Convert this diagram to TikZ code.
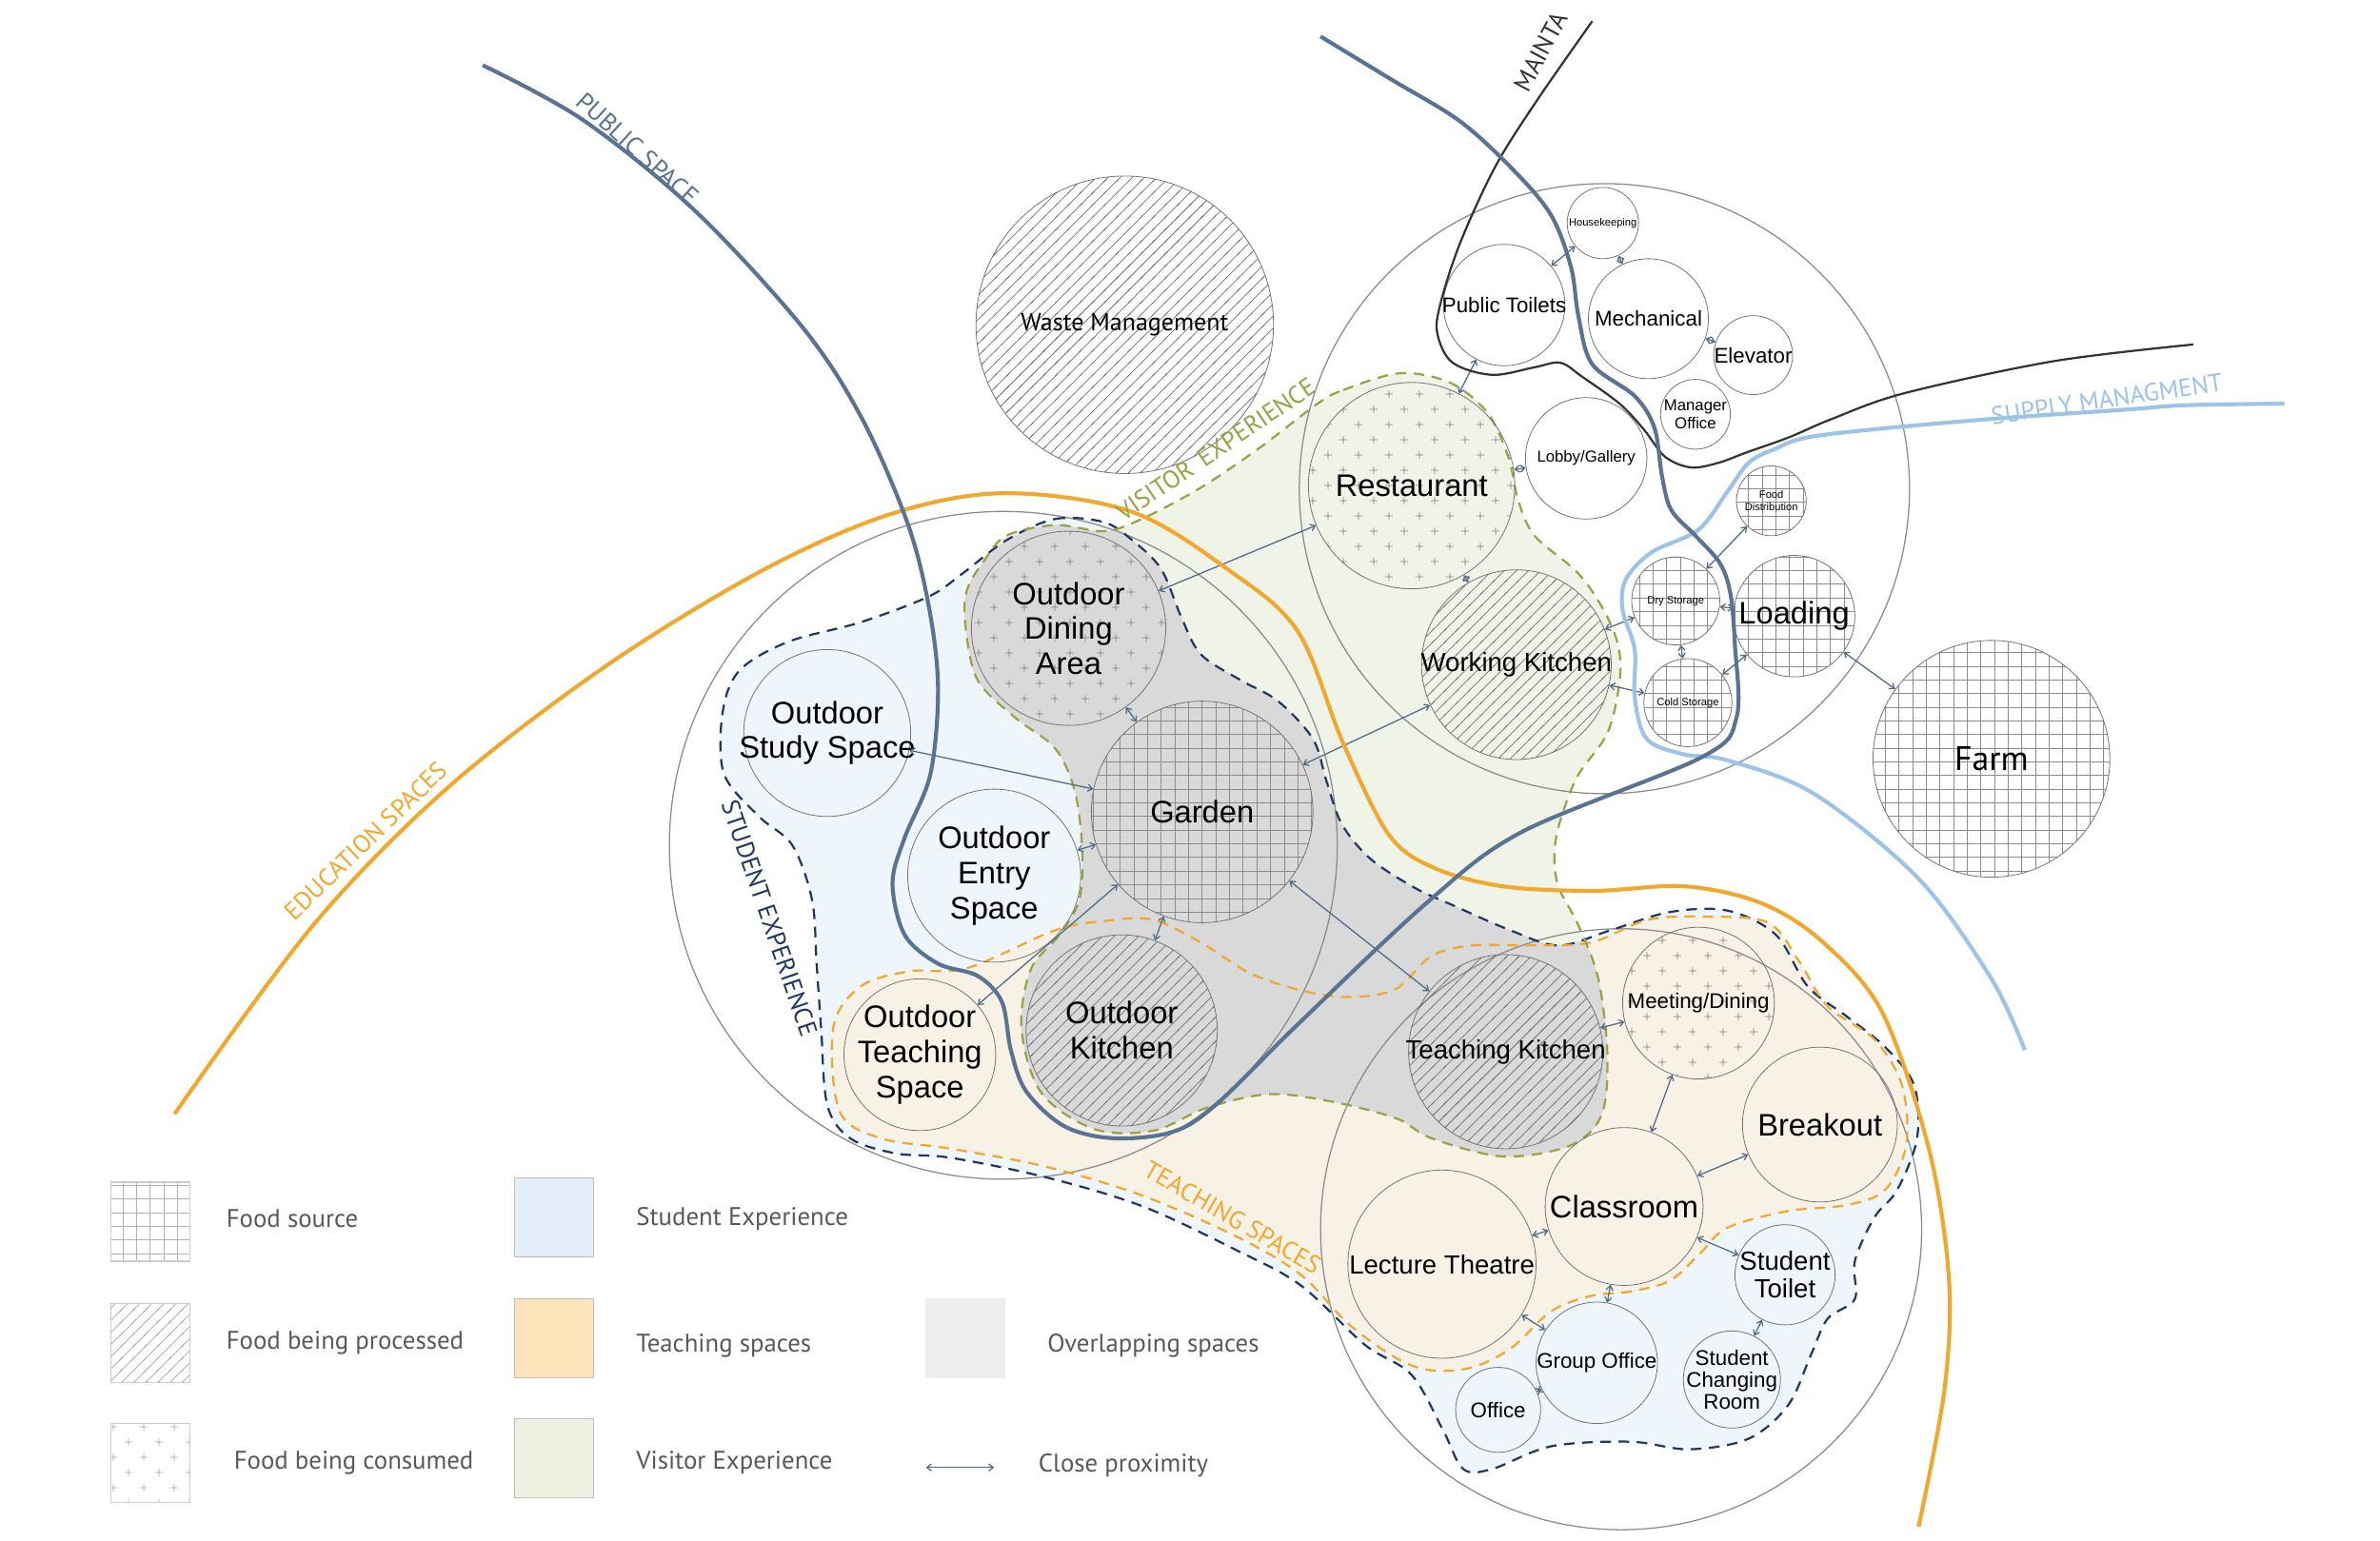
\documentclass[tikz,border=0pt]{standalone}
\usepackage{fontspec}
\setmainfont{Liberation Sans}
\newfontfamily\legendfont{PT Sans}
\usepackage{tikz}
\usetikzlibrary{arrows.meta, patterns}

\definecolor{publicblue}{HTML}{5B7392}
\definecolor{eduorange}{HTML}{F0A82F}
\definecolor{supplyblue}{HTML}{9DC3E6}
\definecolor{studentnavy}{HTML}{1F3864}
\definecolor{visitorolive}{HTML}{9BA146}
\definecolor{studentfill}{HTML}{EEF5FB}
\definecolor{teachfill}{HTML}{F8F2E6}
\definecolor{visitorfill}{HTML}{F0F3E8}
\definecolor{overlapfill}{HTML}{D9D9D9}
\definecolor{proxblue}{HTML}{4F6B87}
\definecolor{keystudent}{HTML}{E3EEF8}
\definecolor{keyteach}{HTML}{FDE3B9}
\definecolor{keyvisitor}{HTML}{EEF0E2}
\definecolor{keyoverlap}{HTML}{EEEEEE}

% hatch patterns for the food stages
\pgfdeclarepatternformonly{foodgrid}{\pgfqpoint{-1pt}{-1pt}}{\pgfqpoint{10pt}{10pt}}{\pgfqpoint{9pt}{9pt}}{%
  \pgfsetlinewidth{0.45pt}%
  \pgfpathmoveto{\pgfqpoint{-1pt}{0pt}}\pgfpathlineto{\pgfqpoint{10pt}{0pt}}%
  \pgfpathmoveto{\pgfqpoint{0pt}{-1pt}}\pgfpathlineto{\pgfqpoint{0pt}{10pt}}%
  \pgfusepath{stroke}}
\pgfdeclarepatternformonly{foodhatch}{\pgfqpoint{-1pt}{-1pt}}{\pgfqpoint{9pt}{9pt}}{\pgfqpoint{8pt}{8pt}}{%
  \pgfsetlinewidth{0.45pt}%
  \pgfpathmoveto{\pgfqpoint{-1pt}{-1pt}}\pgfpathlineto{\pgfqpoint{9pt}{9pt}}%
  \pgfusepath{stroke}}
\pgfdeclarepatternformonly{plusses}{\pgfqpoint{0pt}{0pt}}{\pgfqpoint{20pt}{20pt}}{\pgfqpoint{20pt}{20pt}}{%
  \pgfsetlinewidth{0.5pt}%
  \pgfpathmoveto{\pgfqpoint{2.5pt}{5pt}}\pgfpathlineto{\pgfqpoint{7.5pt}{5pt}}%
  \pgfpathmoveto{\pgfqpoint{5pt}{2.5pt}}\pgfpathlineto{\pgfqpoint{5pt}{7.5pt}}%
  \pgfpathmoveto{\pgfqpoint{12.5pt}{15pt}}\pgfpathlineto{\pgfqpoint{17.5pt}{15pt}}%
  \pgfpathmoveto{\pgfqpoint{15pt}{12.5pt}}\pgfpathlineto{\pgfqpoint{15pt}{17.5pt}}%
  \pgfusepath{stroke}}

\begin{document}
\begin{tikzpicture}[
    x=1pt, y=-1pt,
    room/.style={circle, draw=black!55, line width=0.5pt, inner sep=0pt, minimum size=#1},
    every label/.style={align=center, inner sep=0pt, text=black},
    source/.style={pattern=foodgrid, pattern color=black!45},
    processed/.style={pattern=foodhatch, pattern color=black!55},
    consumed/.style={pattern=plusses, pattern color=black!50},
    bigtxt/.style={font=\fontsize{20.5}{23}\selectfont},
    midtxt/.style={font=\fontsize{17.3}{18.5}\selectfont},
    smalltxt/.style={font=\fontsize{14}{14.5}\selectfont},
    tinytxt/.style={font=\fontsize{10.5}{12}\selectfont},
    microtxt/.style={font=\fontsize{7}{8}\selectfont},
    zone/.style={draw=black!45, line width=0.8pt},
    prox/.style={{Straight Barb[length=3pt,width=4.5pt]}-{Straight Barb[length=3pt,width=4.5pt]}, draw=proxblue, line width=0.8pt},
    zonelabel/.style={font=\legendfont\fontsize{16.5}{17}\selectfont, inner sep=0pt},
    legendtxt/.style={font=\legendfont\fontsize{16.8}{17}\selectfont, text=black!65, anchor=west, inner sep=0pt},
    swatch/.style={rectangle, minimum width=52pt, minimum height=52pt, inner sep=0pt, draw=black!25, line width=0.8pt}
]
\useasboundingbox (0,0) rectangle (1568,1015);
\fill[white] (0,0) rectangle (1568,1015);

% Experience zones
\path[save path=\studentzone] plot[smooth cycle, tension=0.55] coordinates {
  (663,356) (695,342) (727,344) (746,356) (765,375) (778,406) (791,431) (817,448) (842,462)
  (865,487) (874,515) (884,543) (903,566) (932,585) (956,596) (995,613) (1027,623) (1061,613)
  (1100,601) (1138,600) (1170,616) (1191,650) (1217,670) (1242,690) (1261,715) (1263,750)
  (1250,784) (1235,802) (1222,831) (1222,856) (1204,869) (1193,893) (1178,926) (1152,948)
  (1113,955) (1074,950) (1022,953) (983,968) (964,968) (951,943) (930,906) (899,886) (857,847)
  (815,824) (753,795) (690,776) (627,763) (590,760) (560,750) (545,728) (541,678) (538,635)
  (535,593) (522,557) (500,538) (477,510) (476,470) (487,442) (519,423) (567,410) (612,393) (634,378)};
\path[save path=\teachzone] plot[smooth cycle, tension=0.55] coordinates {
  (549,677) (567,650) (599,640) (637,638) (695,613) (727,607) (759,606) (791,621) (823,641)
  (855,652) (887,657) (919,652) (943,630) (970,623) (1008,623) (1048,621) (1086,606) (1126,604)
  (1165,608) (1185,633) (1204,663) (1235,685) (1253,715) (1256,754) (1242,784) (1217,794)
  (1178,798) (1138,809) (1120,826) (1100,844) (1074,851) (1048,854) (1022,864) (996,888)
  (970,901) (943,903) (920,895) (888,872) (857,840) (815,815) (753,788) (690,769) (627,757)
  (580,750) (553,732)};
\path[save path=\visitorzone] plot[smooth cycle, tension=0.55] coordinates {
  (868,266) (885,257) (922,246) (955,252) (980,272) (994,302) (1000,329) (1011,353) (1039,377)
  (1056,401) (1066,425) (1067,449) (1059,483) (1039,512) (1027,544) (1024,565) (1027,585)
  (1040,610) (1053,645) (1059,695) (1055,735) (1034,755) (990,762) (943,750) (920,737)
  (878,726) (836,721) (795,730) (760,745) (721,744) (686,720) (673,678) (679,639) (698,616)
  (711,593) (713,560) (708,521) (695,493) (669,473) (644,448) (636,412) (637,389) (648,370)
  (663,353) (695,346) (727,350) (750,343) (790,322) (830,295)};

\fill[studentfill, use path=\studentzone];
\fill[teachfill, use path=\teachzone];
\fill[visitorfill, use path=\visitorzone];
\begin{scope}
  \clip[use path=\studentzone];
  \fill[overlapfill, use path=\visitorzone];
\end{scope}

% Cluster boundaries
\draw[zone] (661,557) circle[radius=220];
\draw[zone] (1057,322) circle[radius=201];
\draw[zone] (1068,810) circle[radius=198];

\draw[studentnavy, line width=1.4pt, dash pattern=on 7pt off 5pt, use path=\studentzone];
\draw[eduorange, line width=1.4pt, dash pattern=on 7pt off 5pt, use path=\teachzone];
\draw[visitorolive, line width=1.4pt, dash pattern=on 7pt off 5pt, use path=\visitorzone];

% Service and kitchen cluster
\node[room=196pt, processed, label={[font=\legendfont\fontsize{16.3}{17}\selectfont]center:Waste Management}] (waste) at (741,214) {};
\node[room=80pt, label={[smalltxt]center:Public Toilets}] (toilets) at (991,201) {};
\node[room=47pt, label={[microtxt]center:Housekeeping}] (housekeeping) at (1056,147) {};
\node[room=79pt, label={[smalltxt]center:Mechanical}] (mechanical) at (1086,210) {};
\node[room=52pt, label={[smalltxt]center:Elevator}] (elevator) at (1155,234) {};
\node[room=46pt, label={[tinytxt]center:Manager\\Office}] (manager) at (1117,273) {};
\node[room=80pt, label={[tinytxt]center:Lobby/Gallery}] (lobby) at (1045,302) {};
\node[room=136pt, consumed, label={[bigtxt]center:Restaurant}] (restaurant) at (930,320) {};
\node[room=125pt, processed, label={[midtxt]center:Working Kitchen}] (workkitchen) at (999,438) {};
\node[room=46pt, source, label={[microtxt]center:Food\\Distribution}] (fooddist) at (1167,330) {};
\node[room=58pt, source, label={[microtxt]center:Dry Storage}] (drystore) at (1104,396) {};
\node[room=80pt, source, label={[bigtxt]center:Loading}] (loading) at (1182,406) {};
\node[room=58pt, source, label={[microtxt]center:Cold Storage}] (coldstore) at (1112,463) {};
\node[room=156pt, source, label={[font=\legendfont\fontsize{22.5}{23}\selectfont]center:Farm}] (farm) at (1312,500) {};

% Outdoor cluster
\node[room=128pt, consumed, label={[bigtxt]center:Outdoor\\Dining\\Area}] (dining) at (704,414) {};
\node[room=110pt, label={[bigtxt]center:Outdoor\\Study Space}] (study) at (545,483) {};
\node[room=146pt, source, label={[bigtxt]center:Garden}] (garden) at (792,535) {};
\node[room=114pt, label={[bigtxt]center:Outdoor\\Entry\\Space}] (entry) at (655,577) {};
\node[room=126pt, processed, label={[bigtxt]center:Outdoor\\Kitchen}] (outkitchen) at (739,679) {};
\node[room=100pt, label={[bigtxt]center:Outdoor\\Teaching\\Space}] (outteach) at (606,695) {};

% Teaching cluster
\node[room=128pt, processed, label={[midtxt]center:Teaching Kitchen}] (teachkitchen) at (992,693) {};
\node[room=100pt, consumed, label={[smalltxt]center:Meeting/Dining}] (meeting) at (1119,661) {};
\node[room=102pt, label={[bigtxt]center:Breakout}] (breakout) at (1199,741) {};
\node[room=104pt, label={[bigtxt]center:Classroom}] (classroom) at (1070,795) {};
\node[room=124pt, label={[midtxt]center:Lecture Theatre}] (lecture) at (950,833) {};
\node[room=66pt, label={[midtxt]center:Student\\Toilet}] (stutoilet) at (1176,840) {};
\node[room=80pt, label={[smalltxt]center:Group Office}] (groupoffice) at (1052,898) {};
\node[room=64pt, label={[smalltxt]center:Student\\Changing\\Room}] (changing) at (1141,909) {};
\node[room=56pt, label={[smalltxt]center:Office}] (office) at (987,929) {};

% Close proximity links
\draw[prox] (toilets) -- (housekeeping);
\draw[prox] (housekeeping) -- (mechanical);
\draw[prox] (mechanical) -- (elevator);
\draw[prox] (toilets) -- (restaurant);
\draw[prox] (restaurant) -- (lobby);
\draw[prox] (restaurant) -- (workkitchen);
\draw[prox] (restaurant) -- (dining);
\draw[prox] (workkitchen) -- (garden);
\draw[prox] (workkitchen) -- (drystore);
\draw[prox] (workkitchen) -- (coldstore);
\draw[prox] (drystore) -- (fooddist);
\draw[prox] (drystore) -- (loading);
\draw[prox] (drystore) -- (coldstore);
\draw[prox] (coldstore) -- (loading);
\draw[prox] (loading) -- (farm);
\draw[prox] (dining) -- (garden);
\draw[prox] (study) -- (garden);
\draw[prox] (entry) -- (garden);
\draw[prox] (garden) -- (outkitchen);
\draw[prox] (garden) -- (outteach);
\draw[prox] (garden) -- (teachkitchen);
\draw[prox] (teachkitchen) -- (meeting);
\draw[prox] (meeting) -- (classroom);
\draw[prox] (classroom) -- (breakout);
\draw[prox] (classroom) -- (lecture);
\draw[prox] (classroom) -- (stutoilet);
\draw[prox] (classroom) -- (groupoffice);
\draw[prox] (lecture) -- (groupoffice);
\draw[prox] (groupoffice) -- (office);
\draw[prox] (stutoilet) -- (changing);

% Circulation lines
\draw[eduorange, line width=2.6pt] plot[smooth, tension=0.55] coordinates {
  (115,734) (206,610) (295,519) (399,439) (502,376) (586,339) (661,325) (745,337) (810,376)
  (855,416) (885,490) (915,550) (945,572) (990,584) (1050,587) (1110,584) (1160,595)
  (1200,620) (1240,667) (1271,758) (1284,843) (1281,916) (1264,1006)};
\draw[supplyblue, line width=2.6pt] plot[smooth, tension=0.55] coordinates {
  (1505,266) (1440,267) (1399,270) (1300,277) (1198,287) (1169,296) (1152,305) (1138,324)
  (1119,349) (1088,364) (1071,382) (1069,402) (1077,428) (1077,460) (1085,487) (1109,497)
  (1138,501) (1195,523) (1264,579) (1312,645) (1334,692)};
\draw[black!80, line width=1.4pt] plot[smooth, tension=0.55] coordinates {
  (1049,14) (1012,67) (985,110) (962,160) (949,200) (947,220) (957,239) (983,247) (1011,242)
  (1028,239) (1042,248) (1067,266) (1083,283) (1097,301) (1114,308) (1132,305) (1151,298)
  (1179,288) (1207,276) (1255,259) (1353,238) (1445,227)};
\draw[publicblue, line width=2.6pt] plot[smooth, tension=0.55] coordinates {
  (318,43) (384,79) (458,139) (529,216) (568,276) (598,345) (612,400) (618,453) (613,510)
  (596,552) (588,582) (596,616) (618,635) (644,643) (660,660) (666,692) (676,719) (701,742)
  (733,750) (772,746) (801,728) (855,675) (941,594) (1003,548) (1121,499) (1144,473)
  (1143,425) (1140,391) (1133,371) (1117,353) (1101,336) (1095,314) (1090,282) (1077,261)
  (1049,240) (1040,209) (1035,176) (1022,142) (998,113) (962,80) (916,52) (870,24)};

% Zone labels
\node[zonelabel, text=publicblue, rotate=-42] (lblpublic) at (420,98) {PUBLIC SPACE};
\node[zonelabel, text=black!80, rotate=62] (lblmaint) at (1015,34) {MAINTA};
\node[zonelabel, text=supplyblue, rotate=8.5] (lblsupply) at (1388,263) {SUPPLY MANAGMENT};
\node[zonelabel, text=eduorange, rotate=44] (lbledu) at (241,554) {EDUCATION SPACES};
\node[zonelabel, text=studentnavy, rotate=-71] (lblstudent) at (507,605) {STUDENT EXPERIENCE};
\node[zonelabel, text=visitorolive, rotate=34] (lblvisitor) at (801,296) {VISITOR\hspace{7pt}EXPERIENCE};
\node[zonelabel, text=eduorange, rotate=-30] (lblteach) at (812,802) {TEACHING SPACES};

% Legend
\node[swatch, source, draw=black!20, pattern color=black!30] (keysource) at (99,805) {};
\node[swatch, processed, draw=black!20, pattern color=black!35] (keyprocessed) at (99,885) {};
\node[swatch, consumed, draw=black!20, pattern color=black!35] (keyconsumed) at (99,964) {};
\node[legendtxt] (txtsource) at (149,803) {Food source};
\node[legendtxt] (txtprocessed) at (149,885) {Food being processed};
\node[legendtxt] (txtconsumed) at (154,964) {Food being consumed};

\node[swatch, fill=keystudent] (keystudentbox) at (365,802) {};
\node[swatch, fill=keyteach] (keyteachbox) at (365,882) {};
\node[swatch, fill=keyvisitor] (keyvisitorbox) at (365,961) {};
\node[legendtxt] (txtstudent) at (419,803) {Student Experience};
\node[legendtxt] (txtteach) at (419,887) {Teaching spaces};
\node[legendtxt] (txtvisitor) at (419,964) {Visitor Experience};

\node[swatch, fill=keyoverlap, draw=black!8] (keyoverlapbox) at (636,882) {};
\node[legendtxt] (txtoverlap) at (690,887) {Overlapping spaces};
\coordinate (keyproxa) at (610,967);
\coordinate (keyproxb) at (655,967);
\draw[prox] (keyproxa) -- (keyproxb);
\node[legendtxt] (txtprox) at (684,966) {Close proximity};
\end{tikzpicture}
\end{document}
